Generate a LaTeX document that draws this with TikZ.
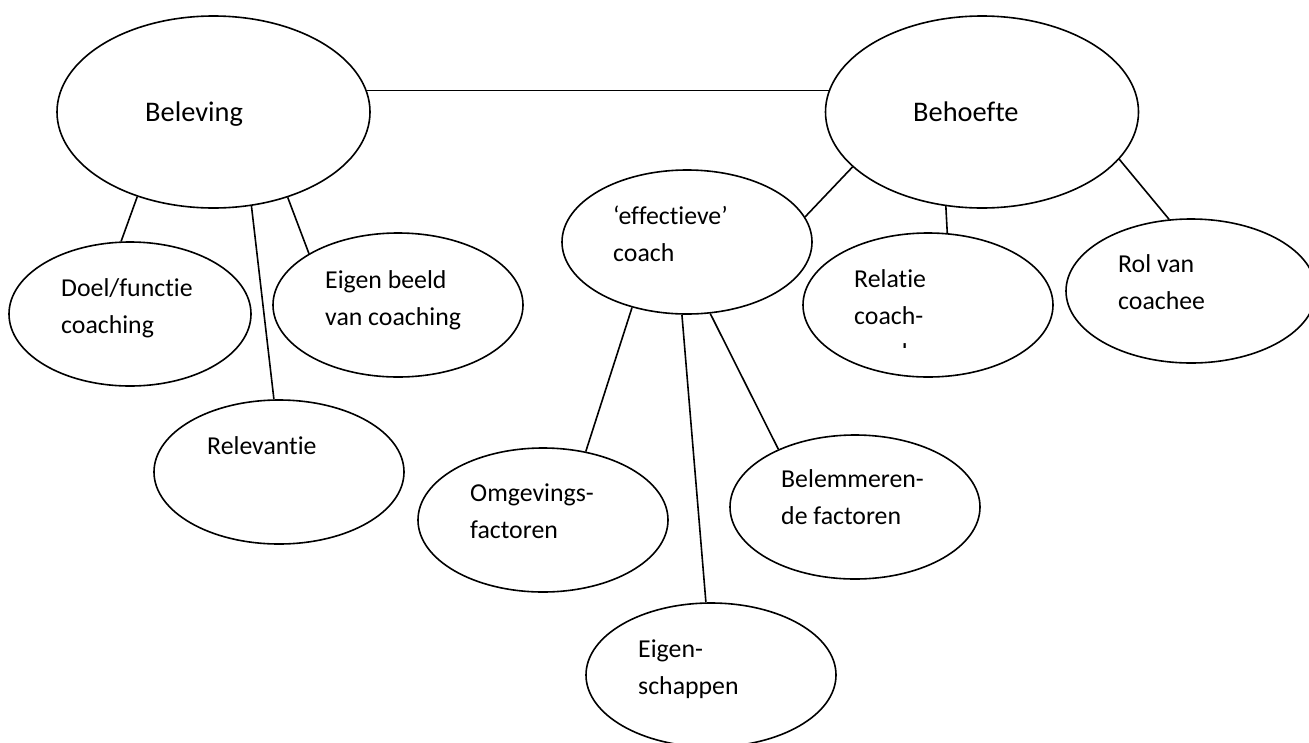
\documentclass[tikz,border=0pt]{standalone}
\usepackage{fontspec}
\setmainfont{Carlito}[Ligatures=NoCommon]
\usetikzlibrary{shapes,positioning}

\tikzstyle{bubble} = [draw, ellipse, line width=1.6pt, inner sep=0pt, minimum width=250pt, minimum height=144pt]
\tikzstyle{bigbubble} = [bubble, minimum width=313pt, minimum height=192pt]
\tikzstyle{word} = [anchor=base west, inner sep=0pt, align=left, font=\fontsize{25.8}{37}\selectfont]
\tikzstyle{bigword} = [word, font=\fontsize{28.4}{34}\selectfont]
\tikzstyle{line} = [draw, line width=1.6pt]

\begin{document}
\begin{tikzpicture}[x=1pt,y=-1pt]
    \clip (0,0) rectangle (1309,742);
    \fill[white] (0,0) rectangle (1309,742);

    % top level
    \node[bigbubble] (bel) at (213.5,112) {};
    \node[bigbubble] (beh) at (982,112) {};
    \node[bigword] (belT) at (145,121) {Beleving};
    \node[bigword] (behT) at (913,121) {Behoefte};

    % beleving side
    \node[bubble, minimum width=242pt] (doel) at (130,314) {};
    \node[bubble] (eigen) at (398,305) {};
    \node[bubble] (relev) at (279,472) {};
    \node[word] (doelT) at (61,333) {Doel/functie\\coaching};
    \node[word] (eigenT) at (325,325) {Eigen beeld\\van coaching};
    \node[word] (relevT) at (207,454) {Relevantie};

    % behoefte side
    \node[bubble] (eff) at (687,242) {};
    \node[bubble] (relatie) at (928,305) {};
    \node[bubble] (rol) at (1191,291) {};
    \node[word] (effT) at (613,261) {‘effectieve’\\coach};
    \node[word] (relatieT) at (854,324) {Relatie\\coach-};
    \begin{scope}
        \clip (840,300) rectangle (1000,347);
        \node[word] (relatieX) at (854,361) {coachee};
    \end{scope}
    \node[word] (rolT) at (1118,309) {Rol van\\coachee};

    % under effectieve coach
    \node[bubble] (omg) at (543,520) {};
    \node[bubble] (belem) at (855,507) {};
    \node[bubble] (schap) at (711,675) {};
    \node[word] (omgT) at (470,538) {Omgevings-\\factoren};
    \node[word] (belemT) at (781,524) {Belemmeren-\\de factoren};
    \node[word] (schapT) at (638,694) {Eigen-\\schappen};

    \path[line] (bel.8.4) -- (bel.8.4 -| beh.171.6);
    \path[line] (bel.228) -- (doel.97);
    \path[line] (bel.292.5) -- (relev.94.8);
    \path[line] (bel.311.2) -- (eigen.150.3);
    \path[line] (beh.203.5) -- (eff.12);
    \path[line] (beh.249.8) -- (relatie.75.2);
    \path[line] (beh.341) -- (rol.107.2);
    \path[line] (eff.230.7) -- (omg.58.6);
    \path[line] (eff.266.9) -- (schap.94.8);
    \path[line] (eff.288.9) -- (belem.143);
\end{tikzpicture}
\end{document}
